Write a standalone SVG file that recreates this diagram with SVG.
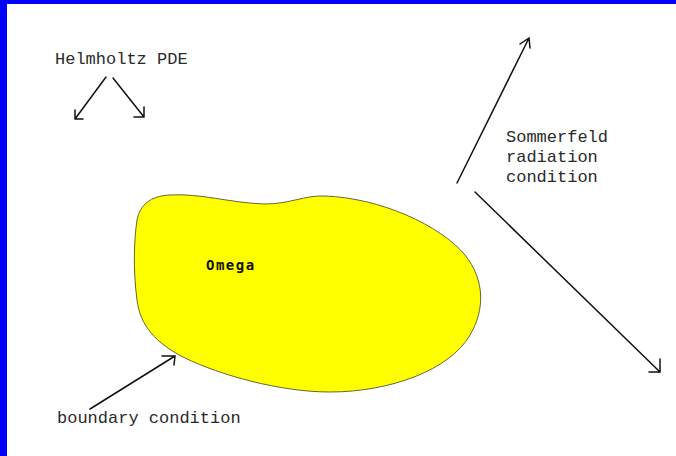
<svg xmlns="http://www.w3.org/2000/svg" width="676" height="456" viewBox="0 0 676 456">
<style>
.lbl{font-family:"Liberation Mono","Courier New",monospace;font-size:17px;fill:#2a2a2a}
.ln{fill:none;stroke:#111;stroke-width:1.5;stroke-linecap:round;stroke-linejoin:miter}
.om{font-family:"DejaVu Sans Mono",monospace;font-weight:bold;font-size:14px;letter-spacing:1.5px;fill:#111}
</style>
<rect x="0" y="0" width="676" height="456" fill="#ffffff"/>
<rect x="0" y="0" width="676" height="4" fill="#0000ff"/>
<rect x="0" y="0" width="7" height="456" fill="#0000ff"/>
<g id="omega">
<path d="M 170,195 C 200,193 230,203 265,204 C 290,204 305,195 325,196 C 380,198 440,225 465,255 C 485,280 485,310 470,335 C 450,370 390,392 330,392 C 280,392 220,375 185,358 C 155,343 140,325 137,300 C 133,270 134,240 137,220 C 140,205 150,196 170,195 Z" fill="#ffff00" stroke="#666633" stroke-width="1"/>
<text class="om" x="206" y="270">Omega</text>
</g>
<g id="helmholtz">
<text class="lbl" x="55" y="64">Helmholtz PDE</text>
</g>
<g id="sommerfeld">
<text class="lbl" x="506" y="142">Sommerfeld</text>
<text class="lbl" x="506" y="162">radiation</text>
<text class="lbl" x="506" y="182">condition</text>
</g>
<g id="boundary">
<text class="lbl" x="57" y="423">boundary condition</text>
</g>
<g id="connectors">
<path class="ln" d="M106,77 L75,119 M75,110 L75,119 L83,119"/>
<path class="ln" d="M113,78 L144,117 M144,107 L144,117 L134,117"/>
<path class="ln" d="M457,183 L529,38 M520,44 L529,38 L530,48"/>
<path class="ln" d="M475,192 L660,372 M649,372 L660,372 L660,359"/>
<path class="ln" d="M90,409 L175,356 M162,356 L175,356 L174,365"/>
</g>
</svg>
